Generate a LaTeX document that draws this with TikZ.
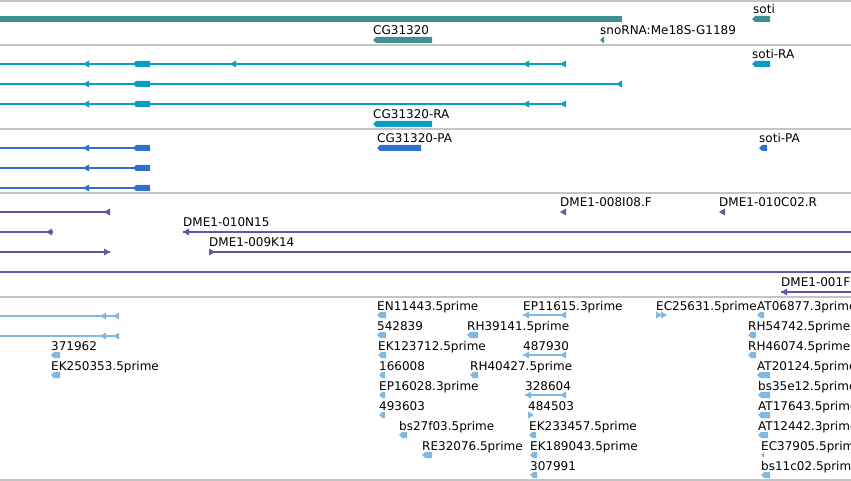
\documentclass[tikz,border=0pt]{standalone}
\usepackage{fontspec}
\setmainfont{DejaVu Sans}
\definecolor{genecol}{HTML}{418F91}
\definecolor{mrnacol}{HTML}{0A9EC4}
\definecolor{cdscol}{HTML}{3070D0}
\definecolor{bacol}{HTML}{6B52A8}
\definecolor{estcol}{HTML}{80B8E0}
\definecolor{sepcol}{HTML}{C4C4C4}

\newcommand{\revglyph}[4]{\fill[#1] (#2,#4) -- (#2+3,#4-3) -- (#3,#4-3) -- (#3,#4+3) -- (#2+3,#4+3) -- cycle;}
\newcommand{\lefttip}[3]{\fill[#1] (#2,#3) -- (#2+6,#3-3.5) -- (#2+6,#3+3.5) -- cycle;}
\newcommand{\righttip}[3]{\fill[#1] (#2+6,#3) -- (#2,#3-3.5) -- (#2,#3+3.5) -- cycle;}

\begin{document}
\begin{tikzpicture}[x=1pt,y=-1pt,
lbl/.style={anchor=base west,inner sep=0pt,font=\fontsize{12}{14}\selectfont},
sep/.style={sepcol,line width=1.2pt},
tx/.style={line width=1.6pt},
thin/.style={line width=1.2pt}]
\useasboundingbox (0,0) rectangle (851,481);
\clip (0,0) rectangle (851,481);
\foreach \y in {1,45,129,193,297,480} \draw[sep] (0,\y) -- (851,\y);

\fill[genecol] (0,16) rectangle (622,22);
\node[lbl] (soti) at (753,13.5) {soti};
\revglyph{genecol}{752}{770}{19}
\node[lbl] (cg) at (373,34.5) {CG31320};
\revglyph{genecol}{373}{432}{40}
\node[lbl] (sno) at (600,34.5) {snoRNA:Me18S-G1189};
\revglyph{genecol}{600}{604}{40}

\draw[mrnacol,tx] (0,64) -- (566,64);
\draw[mrnacol,tx] (0,84) -- (622,84);
\draw[mrnacol,tx] (0,104) -- (566,104);
\foreach \y in {64,84,104} {
  \lefttip{mrnacol}{83}{\y}
  \revglyph{mrnacol}{133}{150}{\y}
}
\lefttip{mrnacol}{230}{64}
\foreach \y in {64,104} {
  \lefttip{mrnacol}{523}{\y}
  \lefttip{mrnacol}{560}{\y}
}
\lefttip{mrnacol}{616}{84}
\node[lbl] (sotira) at (752,58.5) {soti-RA};
\revglyph{mrnacol}{752}{770}{64}
\node[lbl] (cgra) at (373,118.5) {CG31320-RA};
\revglyph{mrnacol}{373}{432}{124}

\foreach \y in {148,168,188} {
  \draw[cdscol,thin] (0,\y) -- (150,\y);
  \lefttip{cdscol}{83}{\y}
  \revglyph{cdscol}{133}{150}{\y}
}
\node[lbl] (cgpa) at (377,142.5) {CG31320-PA};
\revglyph{cdscol}{377}{421}{148}
\node[lbl] (sotipa) at (759,142.5) {soti-PA};
\revglyph{cdscol}{759}{767}{148}

\draw[bacol,thin] (0,212) -- (110,212);
\lefttip{bacol}{104}{212}
\draw[bacol,thin] (0,232) -- (53,232);
\lefttip{bacol}{46}{232}
\draw[bacol,thin] (183,232) -- (851,232);
\lefttip{bacol}{183}{232}
\draw[bacol,thin] (0,252) -- (110,252);
\righttip{bacol}{104}{252}
\draw[bacol,thin] (209,252) -- (851,252);
\righttip{bacol}{209}{252}
\draw[bacol,thin] (0,272) -- (851,272);
\draw[bacol,thin] (781,292) -- (851,292);
\lefttip{bacol}{781}{292}
\node[lbl] (ba1) at (560,206.5) {DME1-008I08.F};
\lefttip{bacol}{560}{212}
\node[lbl] (ba2) at (719,206.5) {DME1-010C02.R};
\lefttip{bacol}{719}{212}
\node[lbl] (ba3) at (183,226.5) {DME1-010N15};
\node[lbl] (ba4) at (209,246.5) {DME1-009K14};
\node[lbl] (ba5) at (781,286) {DME1-001F};

\foreach \y in {316,336} {
  \draw[estcol,thin] (0,\y) -- (118,\y);
  \lefttip{estcol}{100}{\y}
  \lefttip{estcol}{113}{\y}
}
\foreach \x/\b/\w/\t [count=\i] in {51/350/9/371962,51/370/9/EK250353.5prime,
  377/310/9/EN11443.5prime,377/330/9/542839,378/350/8/EK123712.5prime,
  379/370/6/166008,379/390/6/EP16028.3prime,379/410/6/493603,
  399/430/8/bs27f03.5prime,422/450/10/RE32076.5prime,
  467/330/11/RH39141.5prime,470/370/8/RH40427.5prime,
  529/430/7/EK233457.5prime,530/450/7/EK189043.5prime,530/470/7/307991,
  757/310/7/AT06877.3prime,748/330/8/RH54742.5prime,748/350/8/RH46074.5prime,
  757/370/13/AT20124.5prime,758/390/12/bs35e12.5prime,758/410/12/AT17643.5prime,
  758/430/10/AT12442.3prime,761/450/3/EC37905.5prime,761/470/9/bs11c02.5prime} {
  \node[lbl] (est\i) at (\x,\b) {\t};
  \revglyph{estcol}{\x}{\x+\w}{\b+5}
}
\foreach \x/\b/\t [count=\i] in {523/310/EP11615.3prime,523/350/487930,525/390/328604} {
  \node[lbl] (pair\i) at (\x,\b) {\t};
  \draw[estcol,thin] (\x,\b+5) -- (566,\b+5);
  \lefttip{estcol}{\x}{\b+5}
  \lefttip{estcol}{560}{\b+5}
}
\node[lbl] (fwd1) at (528,410) {484503};
\righttip{estcol}{528}{415}
\node[lbl] (fwd2) at (656,310) {EC25631.5prime};
\righttip{estcol}{656}{315}
\righttip{estcol}{661}{315}
\end{tikzpicture}
\end{document}
